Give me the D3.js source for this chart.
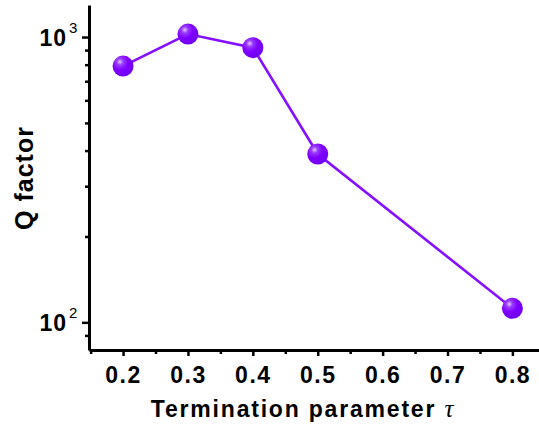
<!DOCTYPE html>
<html><head><meta charset="utf-8">
<script src="https://cdn.jsdelivr.net/npm/d3@7"></script>
<style>body{margin:0;background:#fff}svg{display:block}</style>
</head><body>
<svg id="c" width="539" height="426"></svg>
<script>
const tau = [0.2, 0.3, 0.4, 0.5, 0.8];
const qFactor = [791, 1024, 918, 389, 112];
const xTicks = [0.2, 0.3, 0.4, 0.5, 0.6, 0.7, 0.8];
const yMajor = [100, 1000];
const yMinor = [90, 200, 300, 400, 500, 600, 700, 800, 900];

const svg = d3.select("#c");
const x = d3.scaleLinear().domain([0.1475, 0.841]).range([89, 539]);
const y = d3.scaleLog().domain([80, 1295]).range([350, 5]);

const defs = svg.append("defs");
const g = defs.append("radialGradient").attr("id","ball").attr("cx","0.35").attr("cy","0.3").attr("r","0.7");
g.append("stop").attr("offset","0").attr("stop-color","#e6c8ff");
g.append("stop").attr("offset","0.22").attr("stop-color","#9a3cff");
g.append("stop").attr("offset","0.55").attr("stop-color","#7f00ff");
g.append("stop").attr("offset","1").attr("stop-color","#7000f0");

const FF = "Arial, 'Liberation Sans', sans-serif";

const xAxis = d3.axisBottom(x).tickValues(xTicks).tickFormat(d3.format(".1f")).tickSize(6).tickSizeOuter(0);
const xg = svg.append("g").attr("transform","translate(0,350)").call(xAxis);
svg.append("g").attr("transform","translate(0,350)")
  .call(d3.axisBottom(x).tickValues([0.15,0.25,0.35,0.45,0.55,0.65,0.75]).tickFormat("").tickSize(4).tickSizeOuter(0))
  .select(".domain").remove();

svg.append("g").attr("transform","translate(89,0)")
  .call(d3.axisLeft(y).tickValues(yMajor).tickFormat("").tickSize(7).tickSizeOuter(0));
svg.append("g").attr("transform","translate(89,0)")
  .call(d3.axisLeft(y).tickValues(yMinor).tickFormat("").tickSize(4).tickSizeOuter(0))
  .select(".domain").remove();

svg.selectAll(".domain").attr("stroke","#000").attr("stroke-width",3);
svg.selectAll(".tick line").attr("stroke","#000").attr("stroke-width",2.5);

xg.selectAll(".tick text")
  .attr("font-family",FF).attr("font-weight","bold").attr("font-size",23).attr("fill","#000")
  .attr("letter-spacing","1.5px").attr("dy","0").attr("y",33);

yMajor.forEach(v => {
  svg.append("text").attr("x", 67).attr("y", y(v)+9).attr("text-anchor","end")
    .attr("font-family",FF).attr("font-weight","bold").attr("font-size",23).attr("letter-spacing","1px").text("10");
  svg.append("text").attr("x", 69).attr("y", y(v)-4)
    .attr("font-family",FF).attr("font-size",15).text(Math.round(Math.log10(v)));
});

const pts = tau.map((t,i)=>[t,qFactor[i]]);
svg.append("path").datum(pts)
  .attr("d", d3.line().x(d=>x(d[0])).y(d=>y(d[1])))
  .attr("fill","none").attr("stroke","#8410ff").attr("stroke-width",2.6);

svg.selectAll("circle.pt").data(pts).enter().append("circle")
  .attr("class","pt").attr("cx",d=>x(d[0])).attr("cy",d=>y(d[1])).attr("r",10.5)
  .attr("fill","url(#ball)");

svg.append("text").attr("transform","translate(33,178) rotate(-90)").attr("text-anchor","middle")
  .attr("font-family",FF).attr("font-weight","bold").attr("font-size",25).attr("letter-spacing","1px")
  .text("Q factor");

const xl = svg.append("text").attr("x",303).attr("y",417).attr("text-anchor","middle")
  .attr("font-family",FF).attr("font-weight","bold").attr("font-size",23).attr("letter-spacing","1.8px");
xl.append("tspan").text("Termination parameter ");
xl.append("tspan").attr("font-family","'Times New Roman', 'Liberation Serif', serif")
  .attr("font-style","italic").attr("font-weight","normal").attr("font-size",25).text("τ");
</script>
</body></html>
